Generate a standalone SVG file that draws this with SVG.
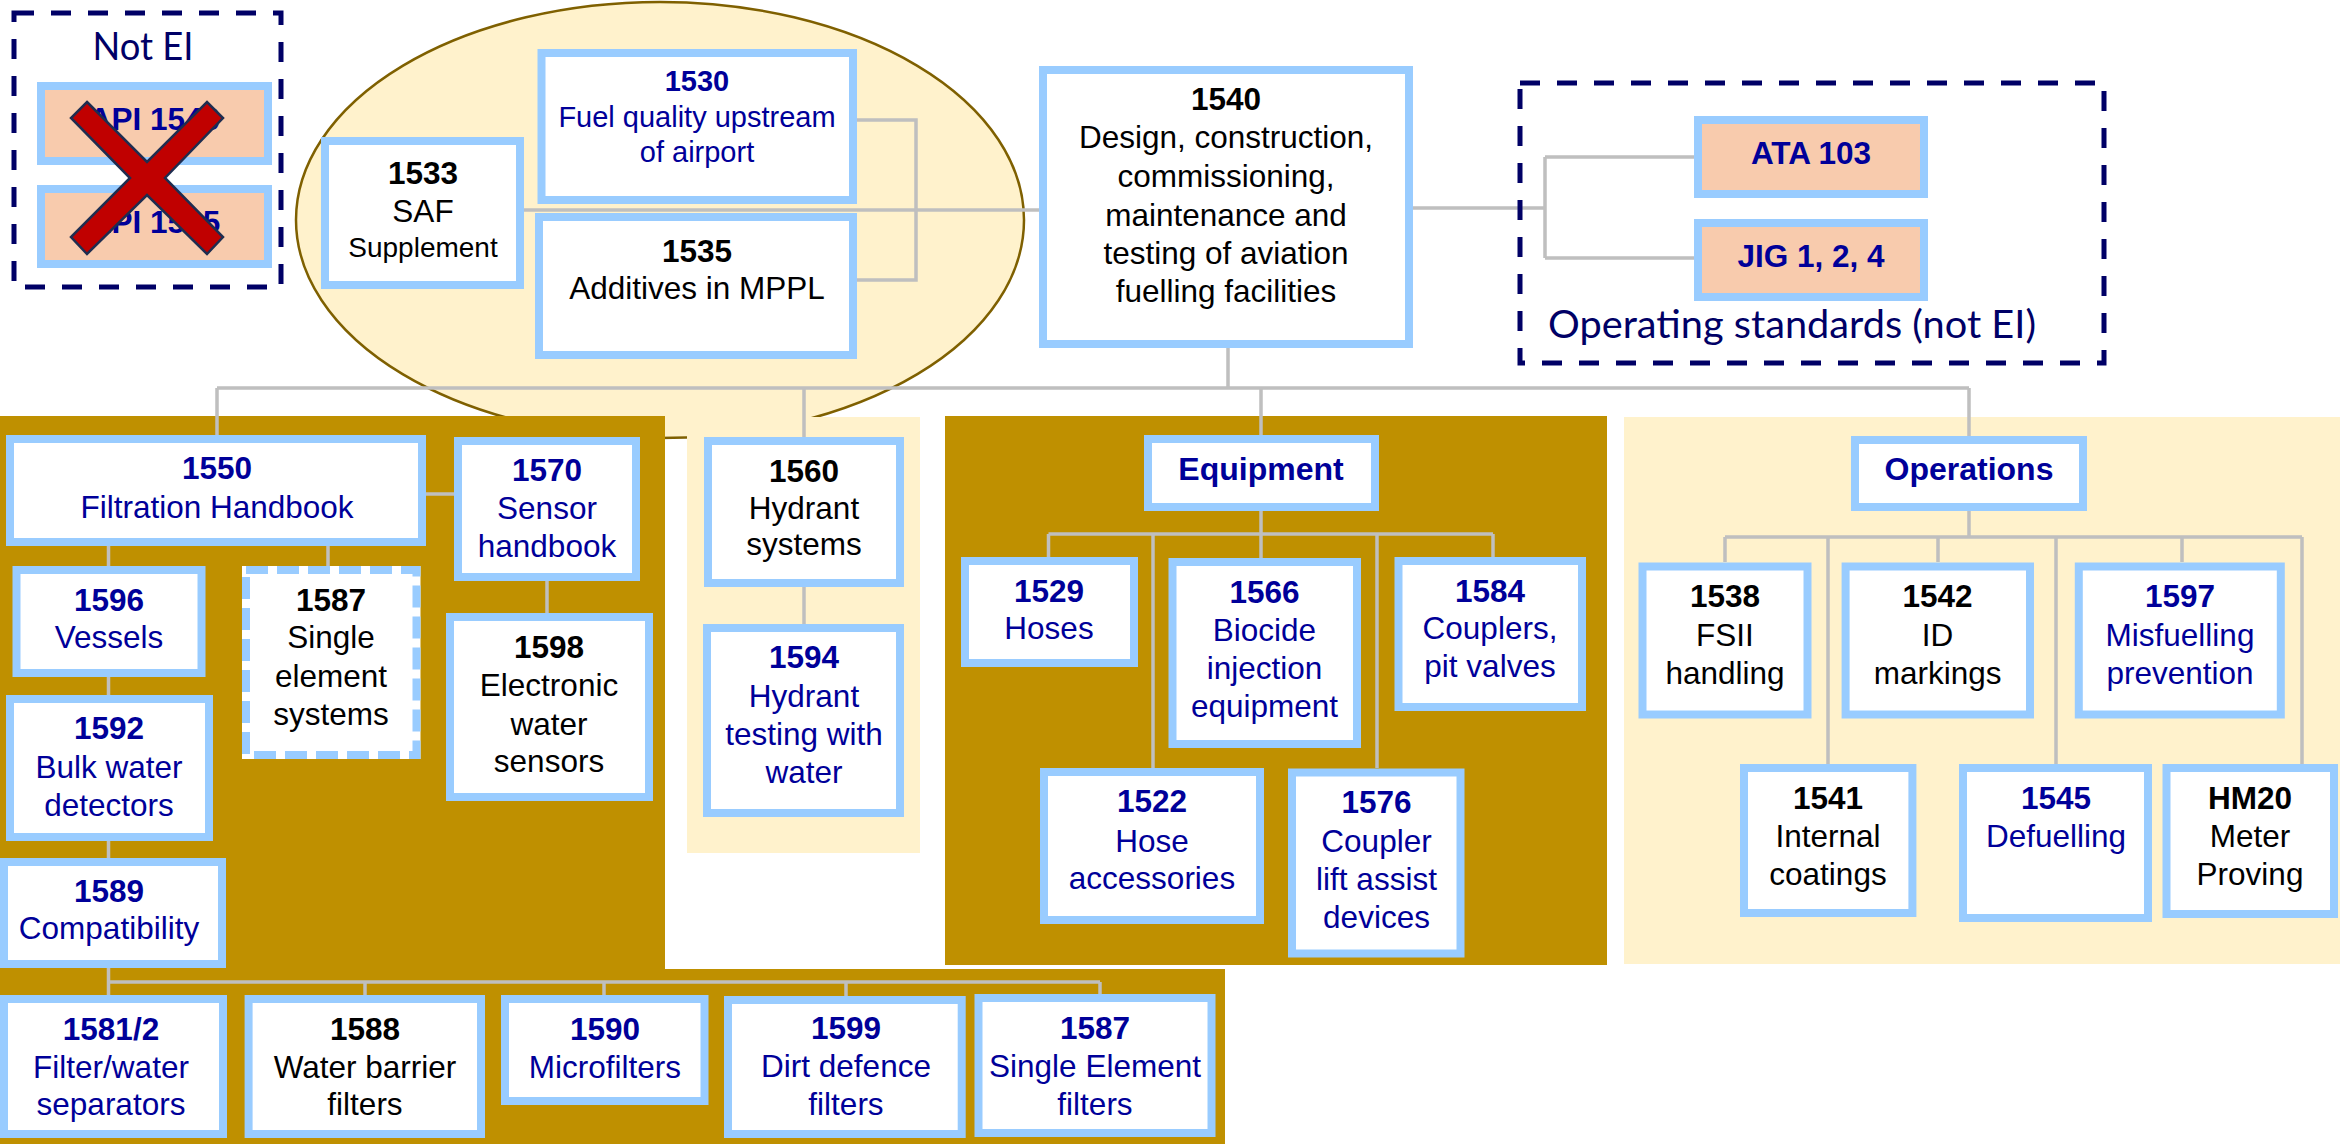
<svg xmlns="http://www.w3.org/2000/svg" width="2344" height="1144" viewBox="0 0 2344 1144">
<style>
.box{fill:#FFFFFF;stroke:#99CCFF;stroke-width:8}
.peach{fill:#F8CBAD;stroke:#99CCFF;stroke-width:8}
.dbox{fill:#FFFFFF;stroke:#99CCFF;stroke-width:8;stroke-dasharray:22 9}
.grp{fill:none;stroke:#000066;stroke-width:5;stroke-dasharray:20 17}
.conn{fill:none;stroke:#BFBFBF;stroke-width:3.5}
.brown{fill:#BF9000}
.cream{fill:#FFF2CC}
text{font-family:"Liberation Sans",Arial,sans-serif;font-size:31.5px;text-anchor:middle}
.b{font-weight:bold}
.n{fill:#000099}
.k{fill:#000000}
.cal{font-family:Lato,"Open Sans",sans-serif;font-size:38px;fill:#000066}
</style>

<!-- background shapes -->
<ellipse cx="660" cy="220" rx="364" ry="218" fill="#FFF2CC" stroke="#7F6000" stroke-width="2.5"/>
<path class="brown" d="M0 416 H665 V969 H1225 V1144 H0 Z"/>
<rect class="cream" x="687" y="417" width="233" height="436"/>
<rect class="brown" x="945" y="416" width="662" height="549"/>
<rect class="cream" x="1624" y="417" width="716" height="547"/>

<!-- connectors -->
<g id="connectors" class="conn">
<path d="M524 210 H1039"/>
<path d="M857 120 H916 V280 H857"/>
<path d="M1413 208 H1545 M1545 157 V258 M1545 157 H1694 M1545 258 H1694"/>
<path d="M1228 348 V388 M217 388 H1969 M217 388 V435 M804 388 V437 M1261 388 V435 M1969 388 V436"/>
<path d="M426 494 H454 M547 581 V613 M108.5 546 V566 M108.5 677 V695 M108.5 841 V858 M328 546 V566"/>
<path d="M804 587 V624"/>
<path d="M1261 511 V534 M1048.5 534 H1493 M1048.5 534 V557 M1153 534 V768 M1261 534 V558 M1377 534 V768 M1493 534 V557"/>
<path d="M1969 511 V537 M1725 537 H2302 M1725 537 V562 M1828 537 V764 M1938 537 V562 M2056 537 V764 M2182 537 V562 M2302 537 V770"/>
<path d="M108.5 968 V995 M108.5 982 H1100 M365 982 V995 M604 982 V995 M846 982 V996 M1100 982 V994"/>
</g>

<!-- Not EI group -->
<g id="not-ei">
<rect class="grp" x="14" y="13" width="267" height="274"/>
<text class="cal" x="143" y="60" textLength="101" lengthAdjust="spacingAndGlyphs">Not EI</text>
<g id="api1540">
<rect class="peach" x="41" y="86" width="227" height="75"/>
<text class="b n" x="154.5" y="130">API 1540</text>
</g>
<g id="api1595">
<rect class="peach" x="41" y="189" width="227" height="75"/>
<text class="b n" x="154.5" y="233">API 1595</text>
</g>
<polygon id="cross" points="87,102 147,162 207,102 223,118 165,178 223,237 207,254 147,195 87,254 71,237 130,178 71,118" fill="#C00000" stroke="#1F2D50" stroke-width="2.5" stroke-linejoin="miter"/>
</g>

<!-- Operating standards group -->
<g id="operating-standards">
<rect class="grp" x="1520" y="83" width="584" height="280"/>
<text class="cal" x="1792" y="338" textLength="488" lengthAdjust="spacingAndGlyphs">Operating standards (not EI)</text>
<g id="ata103">
<rect class="peach" x="1698" y="120" width="226" height="74"/>
<text class="b n" x="1811" y="164">ATA 103</text>
</g>
<g id="jig">
<rect class="peach" x="1698" y="223" width="226" height="74"/>
<text class="b n" x="1811" y="267">JIG 1, 2, 4</text>
</g>
</g>

<g id="n1533">
<rect class="box" x="325" y="141" width="195" height="144"/>
<text class="b k" x="423" y="184">1533</text>
<text class="k" x="423" y="222">SAF</text>
<text class="k" x="423" y="257" style="font-size:28px">Supplement</text>
</g>
<g id="n1530">
<rect class="box" x="541.5" y="53" width="311.5" height="147"/>
<text class="b n" x="697" y="91" style="font-size:29px">1530</text>
<text class="n" x="697" y="127" style="font-size:29px">Fuel quality upstream</text>
<text class="n" x="697" y="162" style="font-size:29px">of airport</text>
</g>
<g id="n1535">
<rect class="box" x="539" y="217" width="314" height="138"/>
<text class="b k" x="697" y="262">1535</text>
<text class="k" x="697" y="299">Additives in MPPL</text>
</g>
<g id="n1540">
<rect class="box" x="1043" y="70" width="366" height="274"/>
<text class="b k" x="1226" y="110">1540</text>
<text class="k" x="1226" y="148">Design, construction,</text>
<text class="k" x="1226" y="187">commissioning,</text>
<text class="k" x="1226" y="226">maintenance and</text>
<text class="k" x="1226" y="264">testing of aviation</text>
<text class="k" x="1226" y="302">fuelling facilities</text>
</g>

<!-- filtration panel -->
<g id="n1550">
<rect class="box" x="10" y="439" width="412" height="103"/>
<text class="b n" x="217" y="479">1550</text>
<text class="n" x="217" y="518">Filtration Handbook</text>
</g>
<g id="n1570">
<rect class="box" x="458" y="441" width="178" height="136"/>
<text class="b n" x="547" y="481">1570</text>
<text class="n" x="547" y="519">Sensor</text>
<text class="n" x="547" y="557">handbook</text>
</g>
<g id="n1598">
<rect class="box" x="450" y="617" width="199" height="180"/>
<text class="b k" x="549" y="658">1598</text>
<text class="k" x="549" y="696">Electronic</text>
<text class="k" x="549" y="735">water</text>
<text class="k" x="549" y="772">sensors</text>
</g>
<g id="n1596">
<rect class="box" x="16.5" y="570" width="185" height="103"/>
<text class="b n" x="109" y="611">1596</text>
<text class="n" x="109" y="648">Vessels</text>
</g>
<g id="n1587a">
<rect x="242" y="566" width="178.5" height="193" fill="#FFFFFF"/>
<rect class="dbox" x="246" y="570" width="170.5" height="185"/>
<text class="b k" x="331" y="611">1587</text>
<text class="k" x="331" y="648">Single</text>
<text class="k" x="331" y="687">element</text>
<text class="k" x="331" y="725">systems</text>
</g>
<g id="n1592">
<rect class="box" x="10" y="699" width="199" height="138"/>
<text class="b n" x="109" y="739">1592</text>
<text class="n" x="109" y="778">Bulk water</text>
<text class="n" x="109" y="816">detectors</text>
</g>
<g id="n1589">
<rect class="box" x="4" y="862" width="218" height="102"/>
<text class="b n" x="109" y="902">1589</text>
<text class="n" x="109" y="939">Compatibility</text>
</g>

<!-- hydrant -->
<g id="n1560">
<rect class="box" x="708" y="441" width="192" height="142"/>
<text class="b k" x="804" y="482">1560</text>
<text class="k" x="804" y="519">Hydrant</text>
<text class="k" x="804" y="555">systems</text>
</g>
<g id="n1594">
<rect class="box" x="707" y="628" width="193" height="185"/>
<text class="b n" x="804" y="668">1594</text>
<text class="n" x="804" y="707">Hydrant</text>
<text class="n" x="804" y="745">testing with</text>
<text class="n" x="804" y="783">water</text>
</g>

<!-- equipment -->
<g id="equipment">
<rect class="box" x="1148" y="439" width="227" height="68"/>
<text class="b n" x="1261" y="480" style="font-size:32px">Equipment</text>
</g>
<g id="n1529">
<rect class="box" x="965" y="561" width="169" height="102"/>
<text class="b n" x="1049" y="602">1529</text>
<text class="n" x="1049" y="639">Hoses</text>
</g>
<g id="n1566">
<rect class="box" x="1172.5" y="562" width="184.5" height="182"/>
<text class="b n" x="1264.5" y="603">1566</text>
<text class="n" x="1264.5" y="641">Biocide</text>
<text class="n" x="1264.5" y="679">injection</text>
<text class="n" x="1264.5" y="717">equipment</text>
</g>
<g id="n1584">
<rect class="box" x="1398.5" y="561" width="183.5" height="146"/>
<text class="b n" x="1490" y="602">1584</text>
<text class="n" x="1490" y="639">Couplers,</text>
<text class="n" x="1490" y="677">pit valves</text>
</g>
<g id="n1522">
<rect class="box" x="1044" y="772" width="216" height="148"/>
<text class="b n" x="1152" y="812">1522</text>
<text class="n" x="1152" y="852">Hose</text>
<text class="n" x="1152" y="889">accessories</text>
</g>
<g id="n1576">
<rect class="box" x="1292" y="772.5" width="168.5" height="181"/>
<text class="b n" x="1376.5" y="813">1576</text>
<text class="n" x="1376.5" y="852">Coupler</text>
<text class="n" x="1376.5" y="890">lift assist</text>
<text class="n" x="1376.5" y="928">devices</text>
</g>

<!-- operations -->
<g id="operations">
<rect class="box" x="1855" y="440" width="228" height="67"/>
<text class="b n" x="1969" y="480" style="font-size:32px">Operations</text>
</g>
<g id="n1538">
<rect class="box" x="1642.5" y="566.5" width="165" height="148"/>
<text class="b k" x="1725" y="607">1538</text>
<text class="k" x="1725" y="646">FSII</text>
<text class="k" x="1725" y="684">handling</text>
</g>
<g id="n1542">
<rect class="box" x="1845.6" y="566.5" width="184.4" height="148"/>
<text class="b k" x="1937.6" y="607">1542</text>
<text class="k" x="1937.6" y="646">ID</text>
<text class="k" x="1937.6" y="684">markings</text>
</g>
<g id="n1597">
<rect class="box" x="2078.8" y="566.5" width="202" height="148"/>
<text class="b n" x="2180" y="607">1597</text>
<text class="n" x="2180" y="646">Misfuelling</text>
<text class="n" x="2180" y="684">prevention</text>
</g>
<g id="n1541">
<rect class="box" x="1744" y="768" width="168.4" height="145"/>
<text class="b k" x="1828" y="809">1541</text>
<text class="k" x="1828" y="847">Internal</text>
<text class="k" x="1828" y="885">coatings</text>
</g>
<g id="n1545">
<rect class="box" x="1963" y="768" width="185" height="150"/>
<text class="b n" x="2056" y="809">1545</text>
<text class="n" x="2056" y="847">Defuelling</text>
</g>
<g id="hm20">
<rect class="box" x="2166.5" y="768" width="167.5" height="146"/>
<text class="b k" x="2250" y="809">HM20</text>
<text class="k" x="2250" y="847">Meter</text>
<text class="k" x="2250" y="885">Proving</text>
</g>

<!-- bottom row -->
<g id="n1581">
<rect class="box" x="4" y="999" width="219" height="135"/>
<text class="b n" x="111" y="1040">1581/2</text>
<text class="n" x="111" y="1078">Filter/water</text>
<text class="n" x="111" y="1115">separators</text>
</g>
<g id="n1588">
<rect class="box" x="248.6" y="999" width="232.4" height="135"/>
<text class="b k" x="365" y="1040">1588</text>
<text class="k" x="365" y="1078">Water barrier</text>
<text class="k" x="365" y="1115">filters</text>
</g>
<g id="n1590">
<rect class="box" x="505" y="999" width="199.5" height="102"/>
<text class="b n" x="605" y="1040">1590</text>
<text class="n" x="605" y="1078">Microfilters</text>
</g>
<g id="n1599">
<rect class="box" x="728" y="1000" width="233.7" height="134"/>
<text class="b n" x="846" y="1039">1599</text>
<text class="n" x="846" y="1077">Dirt defence</text>
<text class="n" x="846" y="1115">filters</text>
</g>
<g id="n1587b">
<rect class="box" x="978.5" y="998" width="233" height="135"/>
<text class="b n" x="1095" y="1039">1587</text>
<text class="n" x="1095" y="1077">Single Element</text>
<text class="n" x="1095" y="1115">filters</text>
</g>
</svg>
